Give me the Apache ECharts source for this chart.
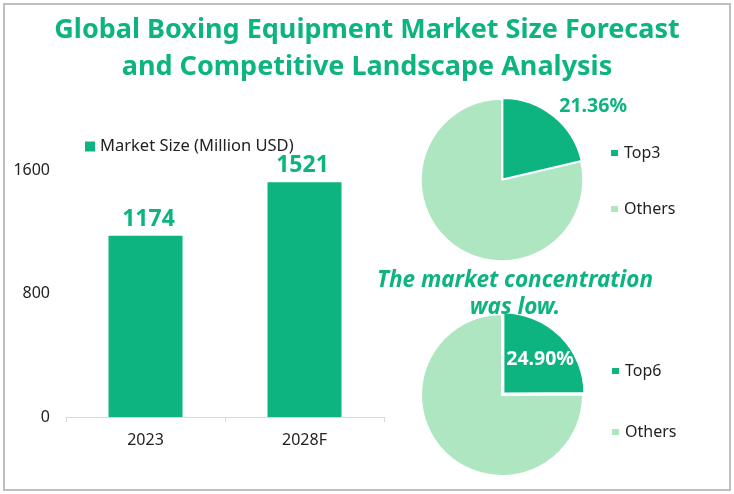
<!DOCTYPE html>
<html>
<head>
<meta charset="utf-8">
<title>Global Boxing Equipment Market</title>
<style>
    html, body { margin: 0; padding: 0; background: #fff; }
    #main { width: 734px; height: 494px; }
</style>
<script src="https://cdn.jsdelivr.net/npm/echarts@6/dist/echarts.min.js"></script>
</head>
<body>
<div id="main"></div>
<script>
var years = ['2023', '2028F'];
var marketSize = [1174, 1521];
var pieTop3 = [{ name: 'Top3', value: 21.36 }, { name: 'Others', value: 78.64 }];
var pieTop6 = [{ name: 'Top6', value: 24.90 }, { name: 'Others', value: 75.10 }];

var GREEN = '#0db480';
var LIGHT = '#afe6c2';
var FONT = '"Noto Sans", sans-serif';

var chart = echarts.init(document.getElementById('main'));

// 百分比标签保留两位小数
function percentText(p) {
    return p.value.toFixed(2) + '%';
}

// 饼图的数据项,第一块带标签
function pieData(list, labelOpt) {
    return list.map(function (n, i) {
        return {
            name: n.name,
            value: n.value,
            selected: i == 0,
            itemStyle: { color: i == 0 ? GREEN : LIGHT },
            label: i == 0 ? labelOpt : { show: false },
            labelLine: { show: false }
        };
    });
}

var option = {
    animation: false,
    textStyle: { fontFamily: FONT },
    graphic: [{
        type: 'rect',
        silent: true,
        shape: { x: 4, y: 4, width: 726, height: 486 },
        style: { fill: 'none', stroke: '#bfbfbf', lineWidth: 2 }
    }],
    title: [
        {
            text: 'Global Boxing Equipment Market Size Forecast\nand Competitive Landscape Analysis',
            left: 362,
            top: 7,
            textAlign: 'center',
            textStyle: { color: GREEN, fontFamily: FONT, fontSize: 27, fontWeight: 'bold', lineHeight: 37 }
        },
        {
            text: 'The market concentration\nwas low.',
            left: 510,
            top: 262,
            textAlign: 'center',
            textStyle: { color: GREEN, fontFamily: FONT, fontSize: 22.5, fontWeight: 'bold', fontStyle: 'italic', lineHeight: 27 }
        }
    ],
    legend: [
        {
            data: ['Market Size (Million USD)'],
            left: 85,
            top: 138,
            padding: 0,
            icon: 'rect',
            itemWidth: 10,
            itemHeight: 10,
            itemGap: 0,
            selectedMode: false,
            textStyle: { color: '#222', fontSize: 16.5 }
        },
        {
            data: ['Top3', 'Others'],
            orient: 'vertical',
            left: 609,
            top: 145,
            padding: 0,
            icon: 'rect',
            itemWidth: 9,
            itemHeight: 8,
            itemGap: 40,
            selectedMode: false,
            textStyle: { color: '#222', fontSize: 16 }
        },
        {
            data: ['Top6', 'Others'],
            orient: 'vertical',
            left: 610,
            top: 363,
            padding: 0,
            icon: 'rect',
            itemWidth: 9,
            itemHeight: 8,
            itemGap: 45,
            selectedMode: false,
            textStyle: { color: '#222', fontSize: 16 }
        }
    ],
    grid: { left: 66, right: 350, top: 170, bottom: 77, containLabel: false },
    xAxis: {
        type: 'category',
        data: years,
        axisLine: { lineStyle: { color: '#d9d9d9', width: 1 } },
        axisTick: { show: true, length: 5, lineStyle: { color: '#d9d9d9' } },
        axisLabel: { color: '#222', fontSize: 16, margin: 15 }
    },
    yAxis: {
        type: 'value',
        min: 0,
        max: 1600,
        interval: 800,
        axisLine: { show: false },
        axisTick: { show: false },
        splitLine: { show: false },
        axisLabel: {
            color: '#222',
            fontSize: 16,
            margin: 16,
            formatter: function (v) { return String(v); }
        }
    },
    series: [
        {
            name: 'Market Size (Million USD)',
            type: 'bar',
            barWidth: 74,
            data: marketSize,
            itemStyle: { color: GREEN },
            labelLayout: function (p) {
                return { dx: p.dataIndex == 0 ? 3 : -2 };
            },
            label: {
                show: true,
                position: 'top',
                distance: 5,
                offset: [1, 0],
                color: GREEN,
                fontSize: 23,
                fontWeight: 'bold'
            }
        },
        {
            type: 'pie',
            center: [502, 180],
            radius: [0, 81],
            startAngle: 90,
            selectedMode: 'single',
            selectedOffset: 1,
            silent: true,
            itemStyle: { borderColor: '#fff', borderWidth: 1.5 },
            labelLayout: { dx: -38, dy: 2 },
            data: pieData(pieTop3, {
                show: true,
                position: 'outside',
                formatter: percentText,
                color: GREEN,
                fontSize: 19.5,
                fontWeight: 'bold'
            })
        },
        {
            type: 'pie',
            center: [502, 395],
            radius: [0, 81],
            startAngle: 90,
            selectedMode: 'single',
            selectedOffset: 2,
            silent: true,
            itemStyle: { borderColor: '#fff', borderWidth: 2 },
            labelLayout: { dx: 6, dy: -3 },
            data: pieData(pieTop6, {
                show: true,
                position: 'inside',
                formatter: percentText,
                color: '#fff',
                fontSize: 19.5,
                fontWeight: 'bold'
            })
        }
    ]
};

chart.setOption(option);
</script>
</body>
</html>
